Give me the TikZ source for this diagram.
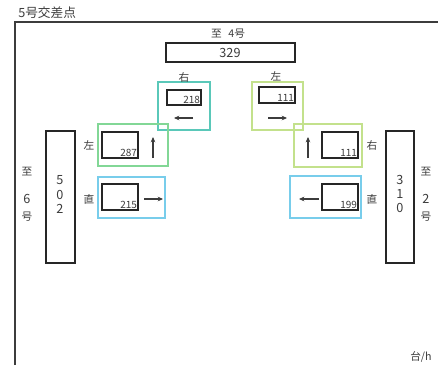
\documentclass[tikz,border=0pt]{standalone}
\usetikzlibrary{arrows.meta}
\usepackage{fontspec}
\newfontfamily\jp{Noto Sans CJK JP}
\setmainfont{Liberation Sans}
\definecolor{ink}{RGB}{60,60,60}
\definecolor{teal}{RGB}{90,200,185}
\definecolor{grn}{RGB}{130,215,150}
\definecolor{ygrn}{RGB}{195,225,140}
\definecolor{blu}{RGB}{120,205,235}
\begin{document}
\begin{tikzpicture}[x=0.75pt,y=-0.75pt,
  lab/.style={inner sep=0pt,text=ink,font=\jp\fontsize{8}{8}\selectfont},
  big/.style={inner sep=0pt,text=ink,font=\jp\fontsize{9.5}{9.5}\selectfont},
  num/.style={inner sep=0.6pt,text=ink,anchor=south east,font=\jp\fontsize{7.5}{7.5}\selectfont},
  blk/.style={draw=black!85,line width=1.1pt},
  frm/.style={line width=0.8pt},
  arr/.style={-{Stealth[length=4pt,width=3.5pt]},line width=0.8pt,ink}]
\useasboundingbox (0,0) rectangle (438,365);
% frame
\draw[ink,line width=0.9pt] (15,365) -- (15,22) -- (438,22);
\node[big,anchor=south west] (title) at (18,19) {5号交差点};
% top
\node[lab] (t4) at (228,34) {至\hspace{5pt}4号};
\draw[blk] (166,43) rectangle (295,62);
\node[big] (n329) at (230,53) {329};
% top-left 218
\draw[frm,teal] (158,82) rectangle (210,130);
\draw[blk] (167,90) rectangle (201,105);
\node[num] (n218) at (201,105) {218};
\node[lab] (r1) at (184,77) {右};
\coordinate (a1s) at (193,118); \coordinate (a1e) at (174,118);
\draw[arr] (a1s) -- (a1e);
% top-right 111
\draw[frm,ygrn] (252,82) rectangle (303,130);
\draw[blk] (259,87) rectangle (295,103);
\node[num] (n111a) at (295,103) {111};
\node[lab] (l1) at (276,76) {左};
\coordinate (a2s) at (268,118); \coordinate (a2e) at (287,118);
\draw[arr] (a2s) -- (a2e);
% left 287
\draw[frm,grn] (98,124) rectangle (168,166);
\draw[blk] (102,132) rectangle (138,158);
\node[num] (n287) at (138,158) {287};
\node[lab] (l2) at (89,145) {左};
\coordinate (a3s) at (153,158); \coordinate (a3e) at (153,137);
\draw[arr] (a3s) -- (a3e);
% left 215
\draw[frm,blu] (98,177) rectangle (165,218);
\draw[blk] (102,184) rectangle (138,210);
\node[num] (n215) at (138,210) {215};
\node[lab] (s1) at (89,199) {直};
\coordinate (a4s) at (144,199); \coordinate (a4e) at (163,199);
\draw[arr] (a4s) -- (a4e);
% right 111
\draw[frm,ygrn] (294,124) rectangle (362,167);
\draw[blk] (322,132) rectangle (358,158);
\node[num] (n111b) at (358,158) {111};
\node[lab] (r2) at (372,145) {右};
\coordinate (a5s) at (308,158); \coordinate (a5e) at (308,137);
\draw[arr] (a5s) -- (a5e);
% right 199
\draw[frm,blu] (290,176) rectangle (361,218);
\draw[blk] (322,184) rectangle (358,210);
\node[num] (n199) at (358,210) {199};
\node[lab] (s2) at (372,199) {直};
\coordinate (a6s) at (319,199); \coordinate (a6e) at (299,199);
\draw[arr] (a6s) -- (a6e);
% left road 502
\draw[blk] (46,131) rectangle (75,263);
\node[big] (d5) at (60,180) {5};
\node[big] (d0) at (60,195) {0};
\node[big] (d2) at (60,209) {2};
\node[lab] (to6) at (27,172) {至};
\node[big] (six) at (27,199) {6};
\node[lab] (g6) at (27,217) {号};
% right road 310
\draw[blk] (386,131) rectangle (414,263);
\node[big] (e3) at (400,180) {3};
\node[big] (e1) at (400,194) {1};
\node[big] (e0) at (400,208) {0};
\node[lab] (to2) at (426,172) {至};
\node[big] (two) at (426,199) {2};
\node[lab] (g2) at (426,217) {号};
% unit
\node[lab,anchor=south west] (unit) at (410,363) {台/h};
\end{tikzpicture}
\end{document}
